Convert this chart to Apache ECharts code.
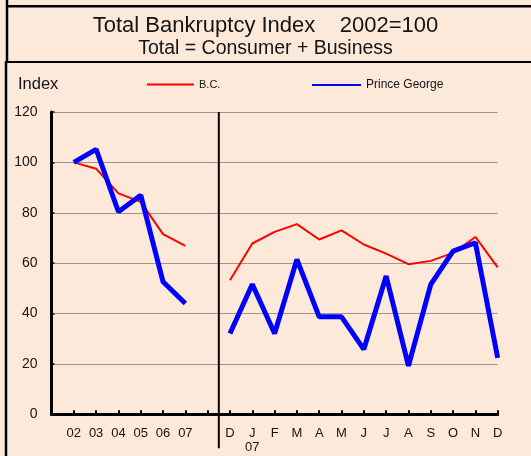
<!DOCTYPE html>
<html>
<head>
<meta charset="utf-8">
<script src="https://cdn.jsdelivr.net/npm/echarts@6/dist/echarts.min.js"></script>
<style>
  html, body { margin: 0; padding: 0; background: #FCE9DA; }
  #chart { width: 531px; height: 456px; }
</style>
</head>
<body>
<div id="chart"></div>
<script>
// Category slots: blank lead slot, yearly 02-07, a blank gap, then monthly Dec 06 - Dec 07
var categories = ['', '02', '03', '04', '05', '06', '07', '',
  'D', 'J\n07', 'F', 'M', 'A', 'M', 'J', 'J', 'A', 'S', 'O', 'N', 'D'];

// B.C. total bankruptcy index (2002 = 100)
var bcYearly  = [100, 97.5, 87.7, 84.3, 71.5, 66.9];
var bcMonthly = [53.2, 67.8, 72.4, 75.5, 69.4, 73.0, 67.4, 63.8, 59.6, 60.9, 64.1, 70.4, 58.3];

// Prince George total bankruptcy index (2002 = 100)
var pgYearly  = [100, 105.2, 80.4, 87.0, 52.6, 44.0];
var pgMonthly = [32.1, 51.6, 32.1, 61.5, 38.7, 38.7, 25.8, 54.9, 19.2, 51.6, 64.8, 68.1, 22.4];

var yTicks = [0, 20, 40, 60, 80, 100, 120];

function slotted(yearly, monthly) {
  return [null].concat(yearly, [null], monthly);
}

var ink = '#141414';
var chart = echarts.init(document.getElementById('chart'), null, { renderer: 'canvas' });

var option = {
  backgroundColor: '#FCE9DA',
  animation: false,
  textStyle: { fontFamily: 'Liberation Sans, Arial, sans-serif' },
  title: [
    {
      text: 'Total Bankruptcy Index    2002=100',
      left: 'center', top: 15, padding: [0, 0, 0, 10],
      textStyle: { fontSize: 22, fontWeight: 'normal', color: ink, fontFamily: 'Liberation Sans' }
    },
    {
      text: 'Total = Consumer + Business',
      left: 'center', top: 39, padding: [0, 0, 0, 11],
      textStyle: { fontSize: 19.5, fontWeight: 'normal', color: ink, fontFamily: 'Liberation Sans' }
    }
  ],
  legend: [
    {
      data: ['B.C.'], left: 142, top: 74, icon: 'rect', itemWidth: 47, itemHeight: 2,
      itemGap: 6, textStyle: { fontSize: 11, color: ink, fontFamily: 'Liberation Sans' }
    },
    {
      data: ['Prince George'], left: 307, top: 74, icon: 'rect', itemWidth: 49, itemHeight: 2,
      textStyle: { fontSize: 12, color: ink, fontFamily: 'Liberation Sans' }
    }
  ],
  grid: { left: 51.5, right: 33.3, top: 112, bottom: 41.7, containLabel: false },
  xAxis: {
    type: 'category',
    data: categories,
    boundaryGap: false,
    axisLine: { lineStyle: { color: '#000', width: 3 } },
    axisTick: { inside: true, length: 4, lineStyle: { color: '#000', width: 2 }, interval: 0 },
    axisLabel: {
      interval: 0, fontSize: 13, color: ink, margin: 12, lineHeight: 14,
      fontFamily: 'Liberation Sans'
    },
    splitLine: { show: false }
  },
  yAxis: {
    type: 'value',
    min: yTicks[0], max: yTicks[yTicks.length - 1], interval: 20,
    axisLine: { show: true, lineStyle: { color: '#000', width: 3 } },
    axisTick: { show: true, inside: true, length: 3, lineStyle: { color: '#000', width: 1.5 } },
    axisLabel: { fontSize: 14, color: ink, margin: 14, fontFamily: 'Liberation Sans' },
    splitLine: { show: true, lineStyle: { color: '#9c958e', width: 1 } }
  },
  series: [
    {
      name: 'B.C.', type: 'line', data: slotted(bcYearly, bcMonthly),
      symbol: 'none', connectNulls: false, z: 2,
      itemStyle: { color: '#ff0000' },
      lineStyle: { color: '#ff0000', width: 2 }
    },
    {
      name: 'Prince George', type: 'line', data: slotted(pgYearly, pgMonthly),
      symbol: 'none', connectNulls: false, z: 3,
      itemStyle: { color: '#0000ff' },
      lineStyle: { color: '#0000ff', width: 5 }
    }
  ]
};

chart.setOption(option);

// Panel frames and the divider between yearly and monthly sections
var xa = chart.convertToPixel({ xAxisIndex: 0 }, 7);
var xb = chart.convertToPixel({ xAxisIndex: 0 }, 8);
var divX = (xa + xb) / 2;
var yTop = chart.convertToPixel({ yAxisIndex: 0 }, 120);
var yZero = chart.convertToPixel({ yAxisIndex: 0 }, 0);
var W = chart.getWidth(), H = chart.getHeight();

chart.setOption({
  graphic: [
    { type: 'line', shape: { x1: 6, y1: 6.2, x2: W, y2: 6.2 }, style: { stroke: '#000', lineWidth: 2.6 }, z: 10 },
    { type: 'line', shape: { x1: 7, y1: 0, x2: 7, y2: 61 }, style: { stroke: '#000', lineWidth: 2.5 }, z: 10 },
    { type: 'line', shape: { x1: 5, y1: 62, x2: W, y2: 62 }, style: { stroke: '#000', lineWidth: 2 }, z: 10 },
    { type: 'line', shape: { x1: 6, y1: 61, x2: 6, y2: H }, style: { stroke: '#000', lineWidth: 2.5 }, z: 10 },
    { type: 'line', shape: { x1: divX, y1: yTop, x2: divX, y2: yZero + 34 }, style: { stroke: '#000', lineWidth: 2 }, z: 10 },
    {
      type: 'text', left: 18, top: 76,
      style: { text: 'Index', fontSize: 16.5, fill: ink, fontFamily: 'Liberation Sans' }, z: 10
    }
  ]
});
</script>
</body>
</html>
